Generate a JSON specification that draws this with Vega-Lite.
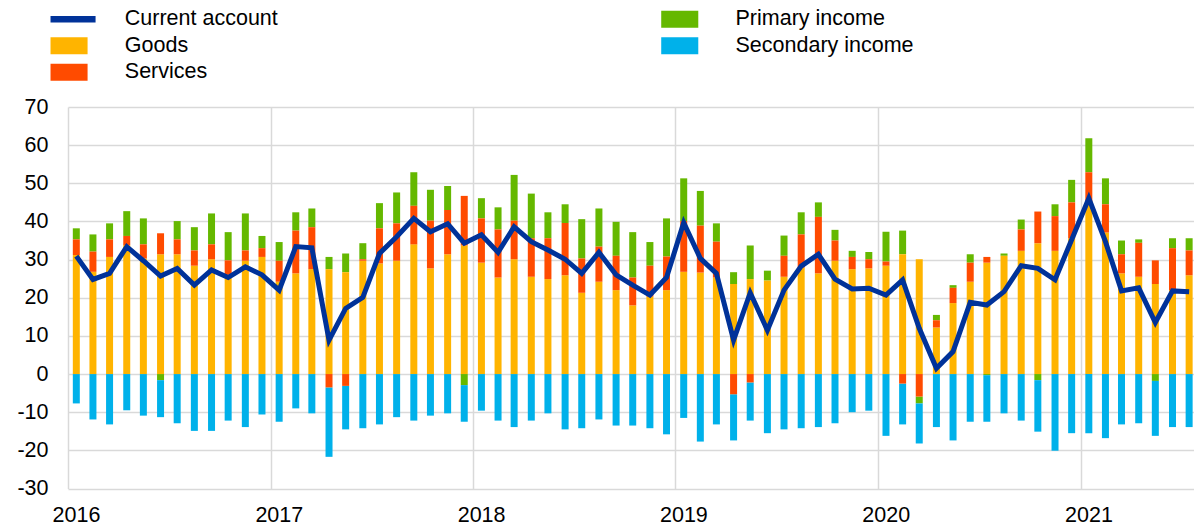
{
  "$schema": "https://vega.github.io/schema/vega-lite/v6.json",
  "width": 1130,
  "height": 381.5,
  "autosize": {"type": "none"},
  "padding": {"left": 68, "top": 107, "right": 0, "bottom": 36.5},
  "background": "white",
  "config": {
    "view": {"stroke": null},
    "font": "Liberation Sans",
    "axis": {
      "labelFont": "Liberation Sans",
      "labelFontSize": 21.5,
      "labelColor": "#000000",
      "gridColor": "#d9d9d9",
      "gridWidth": 1.5,
      "domain": false,
      "ticks": false,
      "tickSize": 0,
      "title": null,
      "labelOverlap": false,
      "labelFlush": false,
      "labelBound": false
    },
    "legend": {
      "orient": "none",
      "direction": "vertical",
      "title": null,
      "labelFont": "Liberation Sans",
      "labelFontSize": 21.5,
      "labelColor": "#000000",
      "labelLimit": 400,
      "symbolSize": 289,
      "symbolStrokeWidth": 0,
      "symbolOpacity": 1,
      "labelOffset": 45,
      "rowPadding": 3.5,
      "padding": 0
    }
  },
  "data": {
    "values": [
      {"date": "2016-01-16", "Goods": 31.2, "Services": 4.1, "Primary income": 2.9, "Secondary income": -7.7, "Current account": 30.9},
      {"date": "2016-02-15", "Goods": 26.8, "Services": 5.3, "Primary income": 4.5, "Secondary income": -11.9, "Current account": 24.8},
      {"date": "2016-03-16", "Goods": 30.7, "Services": 4.6, "Primary income": 4.2, "Secondary income": -13.2, "Current account": 26.4},
      {"date": "2016-04-16", "Goods": 33.8, "Services": 2.4, "Primary income": 6.5, "Secondary income": -9.5, "Current account": 33.4},
      {"date": "2016-05-16", "Goods": 30.3, "Services": 3.7, "Primary income": 6.8, "Secondary income": -10.9, "Current account": 29.7},
      {"date": "2016-06-16", "Goods": 31.4, "Services": 5.5, "Primary income": -1.6, "Secondary income": -9.7, "Current account": 25.7},
      {"date": "2016-07-16", "Goods": 31.4, "Services": 3.9, "Primary income": 4.8, "Secondary income": -12.9, "Current account": 27.7},
      {"date": "2016-08-16", "Goods": 28.4, "Services": 4.0, "Primary income": 6.1, "Secondary income": -14.9, "Current account": 23.3},
      {"date": "2016-09-16", "Goods": 30.1, "Services": 3.9, "Primary income": 8.1, "Secondary income": -14.9, "Current account": 27.3},
      {"date": "2016-10-16", "Goods": 26.0, "Services": 3.8, "Primary income": 7.4, "Secondary income": -12.2, "Current account": 25.3},
      {"date": "2016-11-16", "Goods": 29.7, "Services": 2.7, "Primary income": 9.7, "Secondary income": -13.9, "Current account": 28.1},
      {"date": "2016-12-16", "Goods": 30.7, "Services": 2.3, "Primary income": 3.2, "Secondary income": -10.6, "Current account": 26.0},
      {"date": "2017-01-16", "Goods": 24.2, "Services": 5.5, "Primary income": 4.9, "Secondary income": -12.5, "Current account": 22.0},
      {"date": "2017-02-15", "Goods": 26.4, "Services": 11.2, "Primary income": 4.8, "Secondary income": -9.0, "Current account": 33.4},
      {"date": "2017-03-16", "Goods": 27.5, "Services": 11.0, "Primary income": 4.9, "Secondary income": -10.3, "Current account": 33.1},
      {"date": "2017-04-16", "Goods": 27.5, "Services": -3.5, "Primary income": 3.2, "Secondary income": -18.2, "Current account": 8.9},
      {"date": "2017-05-16", "Goods": 26.7, "Services": -3.1, "Primary income": 4.9, "Secondary income": -11.4, "Current account": 17.2},
      {"date": "2017-06-16", "Goods": 29.7, "Services": 0.4, "Primary income": 4.2, "Secondary income": -14.2, "Current account": 20.1},
      {"date": "2017-07-16", "Goods": 29.0, "Services": 9.2, "Primary income": 6.6, "Secondary income": -13.2, "Current account": 31.6},
      {"date": "2017-08-16", "Goods": 29.7, "Services": 9.8, "Primary income": 8.1, "Secondary income": -11.3, "Current account": 36.0},
      {"date": "2017-09-16", "Goods": 34.0, "Services": 10.1, "Primary income": 8.8, "Secondary income": -12.2, "Current account": 40.8},
      {"date": "2017-10-16", "Goods": 27.7, "Services": 12.5, "Primary income": 8.1, "Secondary income": -10.9, "Current account": 37.3},
      {"date": "2017-11-16", "Goods": 31.4, "Services": 11.6, "Primary income": 6.3, "Secondary income": -10.3, "Current account": 39.4},
      {"date": "2017-12-16", "Goods": 33.7, "Services": 13.0, "Primary income": -2.9, "Secondary income": -9.6, "Current account": 34.3},
      {"date": "2018-01-16", "Goods": 29.2, "Services": 11.6, "Primary income": 5.3, "Secondary income": -9.6, "Current account": 36.5},
      {"date": "2018-02-15", "Goods": 25.3, "Services": 12.6, "Primary income": 5.8, "Secondary income": -12.2, "Current account": 31.9},
      {"date": "2018-03-16", "Goods": 30.1, "Services": 10.1, "Primary income": 12.0, "Secondary income": -13.9, "Current account": 38.6},
      {"date": "2018-04-16", "Goods": 25.5, "Services": 10.1, "Primary income": 11.7, "Secondary income": -12.2, "Current account": 34.7},
      {"date": "2018-05-16", "Goods": 24.9, "Services": 10.7, "Primary income": 6.8, "Secondary income": -10.3, "Current account": 32.5},
      {"date": "2018-06-16", "Goods": 25.9, "Services": 13.7, "Primary income": 4.9, "Secondary income": -14.5, "Current account": 30.1},
      {"date": "2018-07-16", "Goods": 21.3, "Services": 9.0, "Primary income": 10.3, "Secondary income": -14.2, "Current account": 26.4},
      {"date": "2018-08-16", "Goods": 24.2, "Services": 9.2, "Primary income": 10.0, "Secondary income": -11.9, "Current account": 31.9},
      {"date": "2018-09-16", "Goods": 22.0, "Services": 9.0, "Primary income": 8.9, "Secondary income": -13.5, "Current account": 26.0},
      {"date": "2018-10-16", "Goods": 18.0, "Services": 7.3, "Primary income": 11.9, "Secondary income": -13.5, "Current account": 23.3},
      {"date": "2018-11-16", "Goods": 20.3, "Services": 8.1, "Primary income": 6.2, "Secondary income": -14.2, "Current account": 20.7},
      {"date": "2018-12-16", "Goods": 22.0, "Services": 8.8, "Primary income": 10.0, "Secondary income": -15.8, "Current account": 25.3},
      {"date": "2019-01-16", "Goods": 26.8, "Services": 13.3, "Primary income": 11.2, "Secondary income": -11.5, "Current account": 39.7},
      {"date": "2019-02-15", "Goods": 26.6, "Services": 12.3, "Primary income": 9.1, "Secondary income": -17.7, "Current account": 30.3},
      {"date": "2019-03-16", "Goods": 25.3, "Services": 9.4, "Primary income": 4.8, "Secondary income": -13.2, "Current account": 26.4},
      {"date": "2019-04-16", "Goods": 23.6, "Services": -5.3, "Primary income": 3.1, "Secondary income": -12.1, "Current account": 8.9},
      {"date": "2019-05-16", "Goods": 24.9, "Services": -2.2, "Primary income": 8.8, "Secondary income": -10.0, "Current account": 21.3},
      {"date": "2019-06-16", "Goods": 24.5, "Services": 0.0, "Primary income": 2.6, "Secondary income": -15.5, "Current account": 11.5},
      {"date": "2019-07-16", "Goods": 25.5, "Services": 5.5, "Primary income": 5.3, "Secondary income": -14.5, "Current account": 22.0},
      {"date": "2019-08-16", "Goods": 27.9, "Services": 8.7, "Primary income": 5.8, "Secondary income": -14.2, "Current account": 28.3},
      {"date": "2019-09-16", "Goods": 26.4, "Services": 14.8, "Primary income": 3.8, "Secondary income": -13.9, "Current account": 31.4},
      {"date": "2019-10-16", "Goods": 29.7, "Services": 5.3, "Primary income": 2.8, "Secondary income": -12.9, "Current account": 24.9},
      {"date": "2019-11-16", "Goods": 27.5, "Services": 3.2, "Primary income": 1.6, "Secondary income": -10.0, "Current account": 22.3},
      {"date": "2019-12-16", "Goods": 27.7, "Services": 2.4, "Primary income": 1.9, "Secondary income": -9.6, "Current account": 22.5},
      {"date": "2020-01-16", "Goods": 28.4, "Services": 1.1, "Primary income": 7.8, "Secondary income": -16.2, "Current account": 20.7},
      {"date": "2020-02-15", "Goods": 31.4, "Services": -2.5, "Primary income": 6.2, "Secondary income": -10.7, "Current account": 24.7},
      {"date": "2020-03-16", "Goods": 30.1, "Services": -5.9, "Primary income": -1.8, "Secondary income": -10.5, "Current account": 12.0},
      {"date": "2020-04-16", "Goods": 12.2, "Services": 1.9, "Primary income": 1.4, "Secondary income": -13.9, "Current account": 1.5},
      {"date": "2020-05-16", "Goods": 18.6, "Services": 4.0, "Primary income": 0.7, "Secondary income": -17.4, "Current account": 5.9},
      {"date": "2020-06-16", "Goods": 24.2, "Services": 5.0, "Primary income": 2.2, "Secondary income": -12.5, "Current account": 18.8},
      {"date": "2020-07-16", "Goods": 29.2, "Services": 1.5, "Primary income": -0.3, "Secondary income": -12.2, "Current account": 18.1},
      {"date": "2020-08-16", "Goods": 31.0, "Services": 0.0, "Primary income": 0.6, "Secondary income": -10.3, "Current account": 21.6},
      {"date": "2020-09-16", "Goods": 32.3, "Services": 5.6, "Primary income": 2.6, "Secondary income": -12.2, "Current account": 28.4},
      {"date": "2020-10-16", "Goods": 34.3, "Services": 8.3, "Primary income": -1.6, "Secondary income": -13.5, "Current account": 27.7},
      {"date": "2020-11-16", "Goods": 32.3, "Services": 9.1, "Primary income": 3.1, "Secondary income": -20.1, "Current account": 24.7},
      {"date": "2020-12-16", "Goods": 35.6, "Services": 9.4, "Primary income": 5.9, "Secondary income": -15.5, "Current account": 35.2},
      {"date": "2021-01-16", "Goods": 44.3, "Services": 8.6, "Primary income": 8.9, "Secondary income": -15.5, "Current account": 46.1},
      {"date": "2021-02-15", "Goods": 37.1, "Services": 7.4, "Primary income": 6.8, "Secondary income": -16.8, "Current account": 34.7},
      {"date": "2021-03-16", "Goods": 26.4, "Services": 5.0, "Primary income": 3.6, "Secondary income": -13.2, "Current account": 21.8},
      {"date": "2021-04-16", "Goods": 25.5, "Services": 8.9, "Primary income": 0.9, "Secondary income": -12.9, "Current account": 22.6},
      {"date": "2021-05-16", "Goods": 23.6, "Services": 6.2, "Primary income": -1.8, "Secondary income": -14.4, "Current account": 13.5},
      {"date": "2021-06-16", "Goods": 22.0, "Services": 11.0, "Primary income": 2.6, "Secondary income": -13.9, "Current account": 21.8},
      {"date": "2021-07-16", "Goods": 25.9, "Services": 6.5, "Primary income": 3.2, "Secondary income": -13.9, "Current account": 21.6}
    ]
  },
  "layer": [
    {
      "transform": [
        {"fold": ["Goods", "Services", "Primary income", "Secondary income"], "as": ["component", "value"]},
        {"calculate": "indexof(['Goods','Services','Primary income','Secondary income'], datum.component)", "as": "ord"},
        {"stack": "value", "groupby": ["date"], "sort": [{"field": "ord", "order": "ascending"}], "as": ["v0", "v1"]},
        {"filter": {"field": "component", "oneOf": ["Primary income", "Secondary income"]}}
      ],
      "mark": {"type": "bar", "width": 7},
      "encoding": {
        "x": {
          "field": "date",
          "type": "temporal",
          "scale": {
            "type": "utc",
            "padding": 0,
            "domain": [
              {"year": 2016, "month": 1, "date": 1, "utc": true},
              {"year": 2021, "month": 8, "date": 1, "utc": true}
            ]
          },
          "axis": {
            "values": [
              {"year": 2016, "month": 1, "date": 1, "utc": true},
              {"year": 2017, "month": 1, "date": 1, "utc": true},
              {"year": 2018, "month": 1, "date": 1, "utc": true},
              {"year": 2019, "month": 1, "date": 1, "utc": true},
              {"year": 2020, "month": 1, "date": 1, "utc": true},
              {"year": 2021, "month": 1, "date": 1, "utc": true}
            ],
            "format": "%Y",
            "formatType": "utc",
            "grid": true,
            "labelOffset": 8,
            "labelPadding": 15.5
          }
        },
        "y": {
          "field": "v1",
          "type": "quantitative",
          "scale": {"domain": [-30, 70], "nice": false, "zero": false},
          "axis": {
            "values": [-30, -20, -10, 0, 10, 20, 30, 40, 50, 60, 70],
            "grid": true,
            "labelPadding": 20,
            "labelExpr": "'' + datum.value"
          }
        },
        "y2": {"field": "v0"},
        "fill": {
          "field": "component",
          "type": "nominal",
          "scale": {"domain": ["Primary income", "Secondary income"], "range": ["#65b800", "#00b1ea"]},
          "legend": {
            "legendX": 601,
            "legendY": -98.5,
            "symbolType": "M-2.18,-1H2.18V1H-2.18Z"
          }
        }
      }
    },
    {
      "transform": [
        {"fold": ["Goods", "Services", "Primary income", "Secondary income"], "as": ["component", "value"]},
        {"calculate": "indexof(['Goods','Services','Primary income','Secondary income'], datum.component)", "as": "ord"},
        {"stack": "value", "groupby": ["date"], "sort": [{"field": "ord", "order": "ascending"}], "as": ["v0", "v1"]},
        {"filter": {"field": "component", "oneOf": ["Goods", "Services"]}}
      ],
      "mark": {"type": "bar", "width": 7},
      "encoding": {
        "x": {
          "field": "date",
          "type": "temporal",
          "axis": {
            "values": [
              {"year": 2016, "month": 1, "date": 1, "utc": true},
              {"year": 2017, "month": 1, "date": 1, "utc": true},
              {"year": 2018, "month": 1, "date": 1, "utc": true},
              {"year": 2019, "month": 1, "date": 1, "utc": true},
              {"year": 2020, "month": 1, "date": 1, "utc": true},
              {"year": 2021, "month": 1, "date": 1, "utc": true}
            ],
            "format": "%Y",
            "formatType": "utc",
            "grid": true,
            "labelOffset": 8,
            "labelPadding": 15.5
          }
        },
        "y": {
          "field": "v1",
          "type": "quantitative",
          "axis": {
            "values": [-30, -20, -10, 0, 10, 20, 30, 40, 50, 60, 70],
            "grid": true,
            "labelPadding": 20,
            "labelExpr": "'' + datum.value"
          }
        },
        "y2": {"field": "v0"},
        "color": {
          "field": "component",
          "type": "nominal",
          "scale": {"domain": ["Current account", "Goods", "Services"], "range": ["#003299", "#ffb400", "#ff4b00"]},
          "legend": {
            "legendX": -9.7,
            "legendY": -98.5,
            "encode": {
              "symbols": {
                "update": {
                  "shape": {"signal": "datum.value === 'Current account' ? 'M-2.18,-0.38H3.12V0.38H-2.18Z' : 'M-2.18,-1H2.18V1H-2.18Z'"},
                  "fill": {"signal": "datum.value === 'Current account' ? '#003299' : datum.value === 'Goods' ? '#ffb400' : '#ff4b00'"},
                  "strokeWidth": {"value": 0},
                  "opacity": {"value": 1}
                }
              }
            }
          }
        }
      }
    },
    {
      "mark": {"type": "line", "strokeWidth": 5},
      "encoding": {
        "x": {
          "field": "date",
          "type": "temporal",
          "axis": {
            "values": [
              {"year": 2016, "month": 1, "date": 1, "utc": true},
              {"year": 2017, "month": 1, "date": 1, "utc": true},
              {"year": 2018, "month": 1, "date": 1, "utc": true},
              {"year": 2019, "month": 1, "date": 1, "utc": true},
              {"year": 2020, "month": 1, "date": 1, "utc": true},
              {"year": 2021, "month": 1, "date": 1, "utc": true}
            ],
            "format": "%Y",
            "formatType": "utc",
            "grid": true,
            "labelOffset": 8,
            "labelPadding": 15.5
          }
        },
        "y": {
          "field": "Current account",
          "type": "quantitative",
          "axis": {
            "values": [-30, -20, -10, 0, 10, 20, 30, 40, 50, 60, 70],
            "grid": true,
            "labelPadding": 20,
            "labelExpr": "'' + datum.value"
          }
        },
        "color": {"datum": "Current account"}
      }
    }
  ]
}
